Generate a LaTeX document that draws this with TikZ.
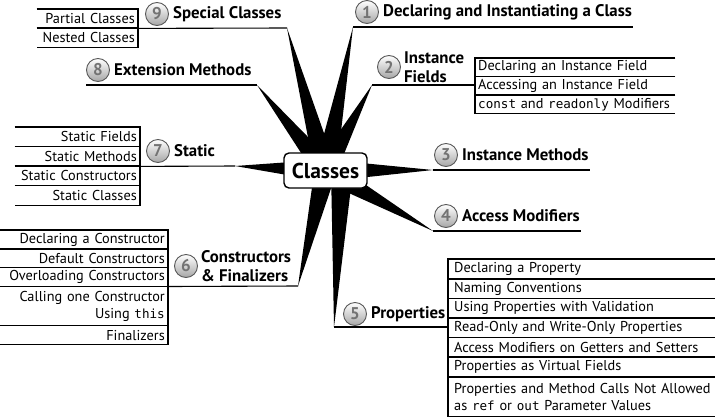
\documentclass[tikz,border=0pt]{standalone}
\usepackage{fontspec}
\setmainfont{PT Sans}
\setmonofont{DejaVu Sans Mono}[Scale=0.88]
\usetikzlibrary{positioning,calc}

\tikzset{
  rule/.style={line width=1.1pt},
  hubbox/.style={draw, line width=1.4pt, rounded corners=5pt, fill=white,
    minimum width=83pt, minimum height=35pt, inner sep=0pt,
    font=\fontsize{21.5}{22}\selectfont\bfseries},
  num/.style={circle, draw=black!65, line width=0.9pt, top color=white,
    bottom color=black!35, minimum size=23pt, inner sep=0pt,
    font=\fontsize{17}{17}\selectfont\bfseries, text=black!55},
  head/.style={anchor=west, inner sep=1pt, align=left,
    font=\fontsize{16.8}{19.5}\selectfont\bfseries},
  lrow/.style={inner xsep=3pt, inner ysep=0pt, minimum height=19pt,
    align=right, font=\fontsize{14.3}{17.5}\selectfont},
  rrow/.style={lrow, align=left},
}

\begin{document}
\begin{tikzpicture}[x=1pt,y=-1pt]
  \useasboundingbox (0,0) rectangle (715,418);

  % hub and spike tips
  \coordinate (hub) at (325.5,170.5);
  \coordinate (o5) at (342,170.5);
  \coordinate (e1) at (353,27);
  \coordinate (e2) at (372,85);
  \coordinate (e3) at (433,170);
  \coordinate (e4) at (433,231);
  \coordinate (e5) at (334,327);
  \coordinate (e6) at (298,286);
  \coordinate (e7) at (235,166);
  \coordinate (e8) at (257,85);
  \coordinate (e9) at (287,28);
  \foreach \o/\e in {hub/e1,hub/e2,hub/e3,hub/e4,o5/e5,hub/e6,hub/e7,hub/e8,hub/e9}
    \fill ($(\o)!11pt!90:(\e)$) -- (\e) -- ($(\o)!11pt!-90:(\e)$) -- cycle;
  \node[hubbox] (cls) at (hub) {Classes};

  % 1
  \node[num] (n1) at (367,12) {1};
  \node[head, right=3pt of n1] (h1) {Declaring and Instantiating a Class};
  \draw[rule] (e1) -- (e1 -| h1.east);

  % 2
  \node[num] (n2) at (389,67) {2};
  \node[head, right=2pt of n2] (h2) {Instance\\Fields};
  \foreach \t [count=\i] in {Declaring an Instance Field,Accessing an Instance Field,
      \texttt{const} and \texttt{readonly} Modifiers} {
    \node[rrow, text width=194pt, minimum height=18.5pt, anchor=north west]
      (if\i) at (475,{58+18.5*(\i-1)}) {\t};
    \draw[rule] (if\i.north east) -- (if\i.north west) -- (if\i.south west) -- (if\i.south east);
  }
  \draw[rule] (e2) -- (e2 -| if1.west);

  % 3 and 4
  \node[num] (n3) at (446,155) {3};
  \node[head, right=3pt of n3] (h3) {Instance Methods};
  \draw[rule] (e3) -- (e3 -| h3.east);
  \node[num] (n4) at (446,216) {4};
  \node[head, right=3pt of n4] (h4) {Access Modifiers};
  \draw[rule] (e4) -- (e4 -| h4.east);

  % 5
  \node[num] (n5) at (355,314) {5};
  \node[head, right=3pt of n5] (h5) {Properties};
  \foreach \t [count=\i] in {Declaring a Property,Naming Conventions,
      Using Properties with Validation,Read-Only and Write-Only Properties,
      Access Modifiers on Getters and Setters,Properties as Virtual Fields} {
    \node[rrow, text width=275pt, inner xsep=6pt, minimum height=19.6pt, anchor=north west]
      (pr\i) at (448,{259+19.6*(\i-1)}) {\t};
    \draw[rule] (pr\i.north east) -- (pr\i.north west) -- (pr\i.south west) -- (pr\i.south east);
  }
  \node[rrow, text width=275pt, inner xsep=6pt, minimum height=39.5pt, below=0pt of pr6] (pr7)
    {Properties and Method Calls Not Allowed\\as \texttt{ref} or \texttt{out} Parameter Values};
  \draw[rule] (pr7.north east) -- (pr7.north west) -- (pr7.south west) -- (pr7.south east);
  \draw[rule] (e5) -- (e5 -| pr1.west);

  % 6
  \node[num] (n6) at (186,266) {6};
  \node[head, right=2pt of n6] (h6) {Constructors\\\& Finalizers};
  \foreach \t [count=\i] in {Declaring a Constructor,Default Constructors,Overloading Constructors} {
    \node[lrow, text width=162pt, minimum height=18.7pt, anchor=north east]
      (co\i) at (168,{230+18.7*(\i-1)}) {\t};
  }
  \node[lrow, text width=162pt, minimum height=39pt, below=0pt of co3] (co4)
    {Calling one Constructor\\Using \texttt{this}};
  \node[lrow, text width=162pt, minimum height=18pt, below=0pt of co4] (co5) {Finalizers};
  \foreach \r in {co1,co2,co3,co4,co5}
    \draw[rule] (\r.north west) -- (\r.north east) -- (\r.south east) -- (\r.south west);
  \draw[rule] (co3.south east) -- (e6);

  % 7
  \node[num] (n7) at (158,151) {7};
  \node[head, right=3pt of n7] (h7) {Static};
  \foreach \t [count=\i] in {Static Fields,Static Methods,Static Constructors,Static Classes} {
    \node[lrow, text width=119pt, minimum height=19.5pt, anchor=north east]
      (st\i) at (140,{127+19.5*(\i-1)}) {\t};
    \draw[rule] (st\i.north west) -- (st\i.north east) -- (st\i.south east) -- (st\i.south west);
  }
  \draw[rule] (st2.south east) -- (e7);

  % 8
  \node[num] (n8) at (98,70) {8};
  \node[head, right=3pt of n8] (h8) {Extension Methods};
  \draw[rule] (n8.west |- e8) -- (e8);

  % 9
  \node[num] (n9) at (157,14) {9};
  \node[head, right=3pt of n9] (h9) {Special Classes};
  \foreach \t [count=\i] in {Partial Classes,Nested Classes} {
    \node[lrow, text width=95pt, anchor=north east] (sc\i) at (138,{9+19*(\i-1)}) {\t};
    \draw[rule] (sc\i.north west) -- (sc\i.north east) -- (sc\i.south east) -- (sc\i.south west);
  }
  \draw[rule] (sc1.south east) -- (e9);
\end{tikzpicture}
\end{document}
